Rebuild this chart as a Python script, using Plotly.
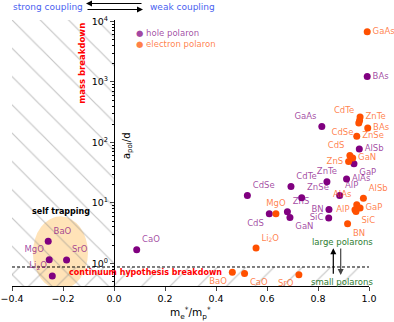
import plotly.graph_objects as go

# hole polarons
hole_names = ["BAs", "GaAs", "AlSb", "GaP", "AlAs", "ZnTe", "CdTe", "CdSe", "ZnSe", "AlP",
              "ZnS", "GaN", "BN", "SiC", "CdS", "CaO", "BaO", "MgO", "SrO", "Li<sub>2</sub>O"]
hole_x = [0.993, 0.815, 0.962, 0.941, 0.912, 0.835, 0.694, 0.523, 0.736, 0.885,
          0.68, 0.69, 0.843, 0.842, 0.609, 0.089, -0.258, -0.254, -0.186, -0.242]
hole_y = [1230, 184, 78, 44.5, 24.8, 22.4, 18.7, 13.2, 12.2, 13.3,
          7.1, 5.75, 7.8, 5.6, 6.6, 1.68, 2.31, 1.15, 1.14, 0.62]

# electron polarons
elec_names = ["GaAs", "ZnTe", "CdTe", "CdSe", "BAs", "ZnSe", "CdS", "GaN", "ZnS", "AlSb",
              "AlAs", "AlP", "GaP", "SiC", "BN", "MgO", "Li<sub>2</sub>O", "BaO", "CaO", "SrO"]
elec_x = [0.993, 0.965, 0.963, 0.96, 0.995, 0.952, 0.925, 0.936, 0.92, 0.978,
          0.952, 0.945, 0.965, 0.949, 0.916, 0.635, 0.557, 0.464, 0.512, 0.725]
elec_y = [6760, 263, 231, 209, 173, 126, 61, 55, 48.5, 11.9,
          9.3, 7.7, 8.2, 7.2, 4.5, 6.6, 1.79, 0.71, 0.68, 0.65]

# where each label sits relative to its dot
hole_pos = ["middle right", "top left", "middle right", "bottom right", "middle right",
            "top center", "top right", "top right", "top right", "top right",
            "top right", "bottom right", "middle left", "middle left", "bottom left",
            "top right", "top right", "top left", "top right", "top left"]
elec_pos = ["middle right", "middle right", "top left", "bottom left", "middle right",
            "middle right", "top left", "middle right", "middle left", "top right",
            "top left", "middle left", "middle right", "bottom right", "bottom right",
            "top center", "top right", "bottom left", "bottom right", "bottom left"]

# region limits
x_lo, x_zero, x_hi = -0.4, 0.0, 1.0
y_lo, y_hi = 10 ** -0.375, 10 ** 4.025
y_dash = 0.87

# self trapping blob extent
blob_x = [-0.318, -0.102]
blob_y = [10 ** -0.43, 10 ** 0.777]

FONT = "DejaVu Sans"
HOLE = "#800080"
ELEC = "#ff5000"

fig = go.Figure()

def hatch(x0, x1, y0, y1, shape):
    fig.add_trace(go.Bar(
        x=[(x0 + x1) / 2], y=[y1 - y0], base=[y0], width=[x1 - x0],
        marker=dict(color="rgba(0,0,0,0)", line=dict(width=0),
                    pattern=dict(shape=shape, size=20, solidity=0.06, fgcolor="#8c8c8c",
                                 bgcolor="rgba(0,0,0,0)")),
        hoverinfo="skip"))

hatch(x_lo, x_zero, y_lo, y_hi, "\\")   # strong coupling region
hatch(x_lo, x_hi, y_lo, y_dash, "/")    # small polaron region

fig.add_trace(go.Scatter(x=[x_lo, x_hi], y=[y_dash, y_dash], mode="lines",
                         line=dict(color="black", width=1, dash="3px,2px"), hoverinfo="skip"))

fig.add_trace(go.Scatter(
    x=hole_x, y=hole_y, text=hole_names, mode="markers+text", textposition=hole_pos,
    marker=dict(size=7, color=HOLE), cliponaxis=False,
    textfont=dict(family=FONT, size=8.5, color="rgba(128,0,128,0.72)")))
fig.add_trace(go.Scatter(
    x=elec_x, y=elec_y, text=elec_names, mode="markers+text", textposition=elec_pos,
    marker=dict(size=7, color=ELEC), cliponaxis=False,
    textfont=dict(family=FONT, size=8.5, color="rgba(255,80,0,0.72)")))

fig.add_shape(type="circle", xref="x", yref="y", x0=blob_x[0], x1=blob_x[1],
              y0=blob_y[0], y1=blob_y[1],
              fillcolor="rgba(255,170,40,0.33)", line=dict(width=0), layer="below")

yminor = [m * 10 ** k for k in range(-1, 4) for m in range(2, 10)]

fig.update_layout(
    width=394, height=322, showlegend=False, barmode="overlay", bargap=0,
    margin=dict(l=12, r=25, t=20, b=36),
    paper_bgcolor="white", plot_bgcolor="white",
    font=dict(family=FONT, size=9.5, color="black"),
    xaxis=dict(range=[x_lo, x_hi], showgrid=False, zeroline=False, showline=True,
               linecolor="black", linewidth=1, ticks="outside", ticklen=4,
               tickvals=[-0.4, -0.2, 0.0, 0.2, 0.4, 0.6, 0.8, 1.0], tickformat=".1f",
               tickfont=dict(size=9.5), automargin=False),
    yaxis=dict(type="log", range=[-0.375, 4.025], showgrid=False, zeroline=False,
               showline=True, linecolor="black", linewidth=1, anchor="free",
               position=(x_zero - x_lo) / (x_hi - x_lo), automargin=False,
               ticks="outside", ticklen=4,
               tickvals=[1, 10, 100, 1000, 10000],
               ticktext=["10<sup>0</sup>", "10<sup>1</sup>", "10<sup>2</sup>",
                         "10<sup>3</sup>", "10<sup>4</sup>"],
               tickfont=dict(size=9.5),
               minor=dict(tickvals=yminor, ticks="outside", ticklen=2, tickcolor="black",
                          showgrid=False)),
)

def note(text, x, y, size=8.5, color="black", xanchor="center", **kw):
    fig.add_annotation(text=text, x=x, y=y, xref="paper", yref="paper", showarrow=False,
                       xanchor=xanchor, yanchor="middle",
                       font=dict(family=FONT, size=size, color=color), **kw)

note("strong coupling", 0.102, 1.049, size=9, color="#4a5ff0")
note("weak coupling", 0.381, 1.049, size=9, color="#4a5ff0", xanchor="left")
note("<b>mass breakdown</b>", 0.195, 0.838, size=8.5, color="red", textangle=-90)
note("a<sub>pol</sub>/d", 0.3235, 0.528, size=10, textangle=-90)
note("<b>self trapping</b>", 0.136, 0.279, size=8)
note("<b>continuum hypothesis breakdown</b>", 0.154, 0.0526, size=8, color="red",
     xanchor="left")
note("large polarons", 0.835, 0.1665, size=8.5, color="#2e7d32", xanchor="left")
note("small polarons", 0.832, 0.016, size=8.5, color="#2e7d32", xanchor="left")
note("m<sub>e</sub><sup>*</sup>/m<sub>p</sub><sup>*</sup>", 0.4986, -0.1015, size=10.5)
note('<span style="color:%s">●</span> hole polaron' % HOLE, 0.343, 0.952,
     color="rgba(128,0,128,0.72)", xanchor="left")
note('<span style="color:%s">●</span> electron polaron' % ELEC, 0.343, 0.910,
     color="rgba(255,80,0,0.72)", xanchor="left")

def arrow(x, y, ax, ay, color="black"):
    fig.add_annotation(text="", x=x, y=y, xref="paper", yref="paper", ax=ax, ay=ay,
                       axref="pixel", ayref="pixel", showarrow=True, arrowhead=2,
                       arrowsize=1, arrowwidth=1.2, arrowcolor=color)

arrow((86 - 12) / 357, (286 - 3.5) / 266, 57, 0)
arrow((143 - 12) / 357, (286 - 9.5) / 266, -57, 0)
arrow((333.3 - 12) / 357, (286 - 248.3) / 266, 0, 27)
arrow((340.7 - 12) / 357, (286 - 275) / 266, 0, -28, color="#444444")

# the page's default body margin would push the figure 8px down and right
fig.write_html("out.html", config={"displayModeBar": False},
               post_script="document.body.style.margin='0';")
